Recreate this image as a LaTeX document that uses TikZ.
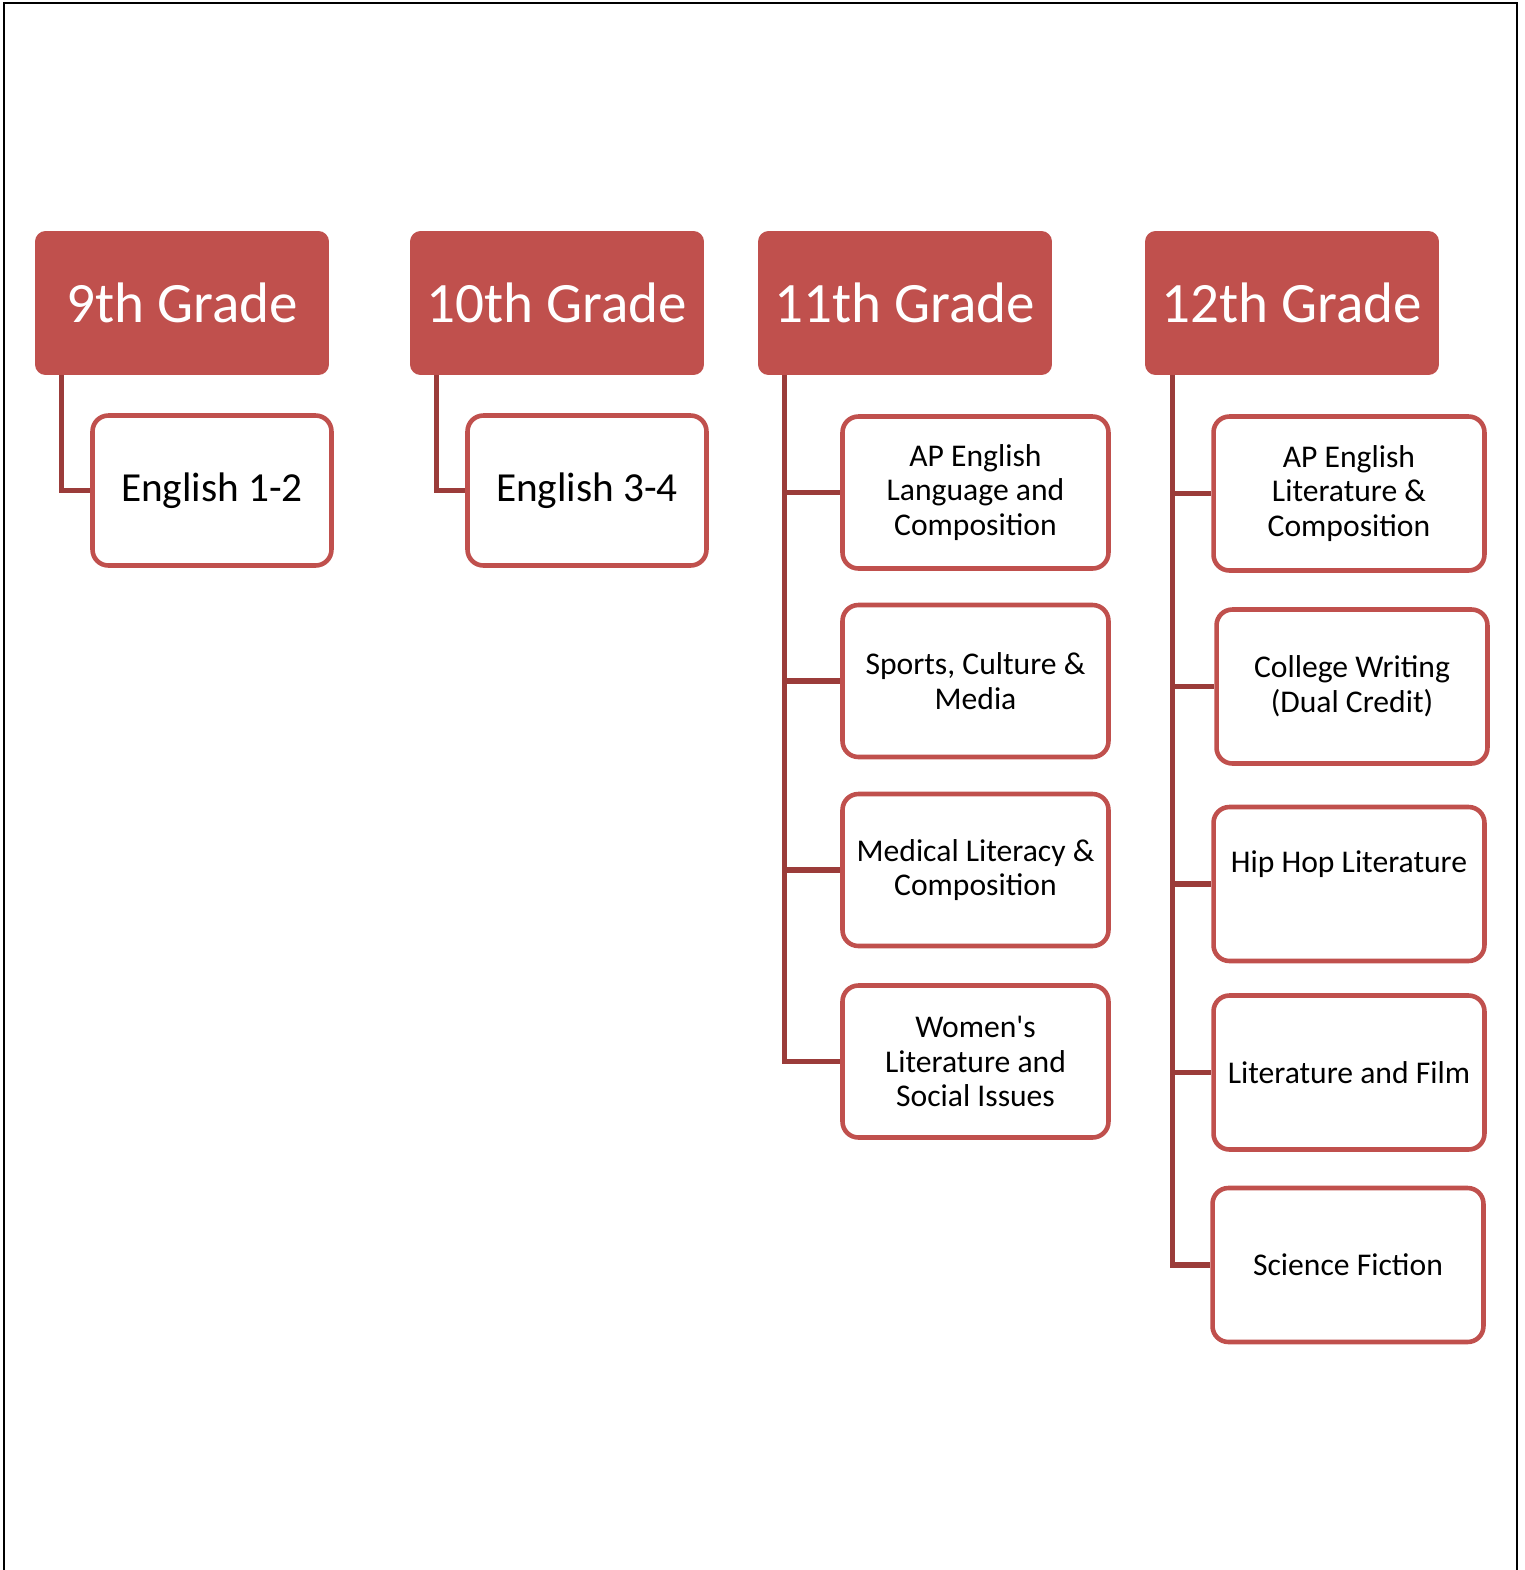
\documentclass[tikz,border=0pt]{standalone}
\usepackage{fontspec}
\setmainfont{Carlito}
\usepackage{tikz}
\usetikzlibrary{positioning,calc}
\definecolor{gradered}{RGB}{192,80,77}
\definecolor{linkred}{RGB}{155,60,58}

\begin{document}
\begin{tikzpicture}[x=0.02cm,y=-0.02cm,
                    grade/.style={rectangle,rounded corners=6pt,fill=gradered,text=white,
                      minimum width=5.88cm,minimum height=2.88cm,
                      font=\fontsize{32.5}{36}\selectfont},
                    course/.style={rectangle,rounded corners=9pt,draw=gradered,line width=2.6pt,
                      fill=white,align=center,font=\fontsize{18}{19.8}\selectfont},
                    small course/.style={course,minimum width=4.78cm,minimum height=3.0cm,
                      font=\fontsize{23.5}{26}\selectfont},
                    mid course/.style={course,minimum width=5.32cm,minimum height=3.04cm},
                    wide course/.style={course,minimum width=5.42cm,minimum height=3.08cm},
                    link/.style={draw=linkred,line width=3.1pt}]

                  \useasboundingbox (0,0) rectangle (1525,1570);
                  \draw[line width=1.2pt] (4,1570) -- (4,3) -- (1517,3) -- (1517,1570);

                  % Grade headers
                  \node (g9) [grade] at (182,303) {9th Grade};
                  \node (g10) [grade] at (557,303) {10th Grade};
                  \node (g11) [grade] at (905,303) {11th Grade};
                  \node (g12) [grade] at (1292,303) {12th Grade};

                  % 9th and 10th
                  \node (eng12) [small course] at (212,490.5) {English 1-2};
                  \node (eng34) [small course] at (587,490.5) {English 3-4};

                  % 11th
                  \node (aplang) [mid course] at (975.5,492.5) {AP English\\Language and\\Composition};
                  \node (sports) [mid course] at (975.5,681) {Sports, Culture \&\\Media};
                  \node (medical) [mid course] at (975.5,870) {Medical Literacy \&\\Composition};
                  \node (women) [mid course] at (975.5,1061.5) {Women\textquotesingle s\\Literature and\\Social Issues};

                  % 12th
                  \node (aplit) [wide course] at (1349,493.5) {AP English\\Literature \&\\Composition};
                  \node (college) [wide course] at (1352,686.5) {College Writing\\(Dual Credit)};
                  \node (hiphop) [wide course] at (1349,884) {Hip Hop Literature\\\strut};
                  \node (film) [wide course] at (1349,1072.5) {Literature and Film};
                  \node (scifi) [wide course] at (1348,1265) {Science Fiction};

                  \path [link] ([xshift=0.54cm]g9.south west) |- (eng12.west);
                  \path [link] ([xshift=0.54cm]g10.south west) |- (eng34.west);

                  \path [link] ([xshift=0.54cm]g11.south west) |- (women.west);
                  \foreach \c in {aplang,sports,medical}
                    \path [link] ([xshift=0.54cm]g11.south west |- \c.west) -- (\c.west);

                  \path [link] ([xshift=0.56cm]g12.south west) |- (scifi.west);
                  \foreach \c in {aplit,college,hiphop,film}
                    \path [link] ([xshift=0.56cm]g12.south west |- \c.west) -- (\c.west);
                \end{tikzpicture}
\end{document}
